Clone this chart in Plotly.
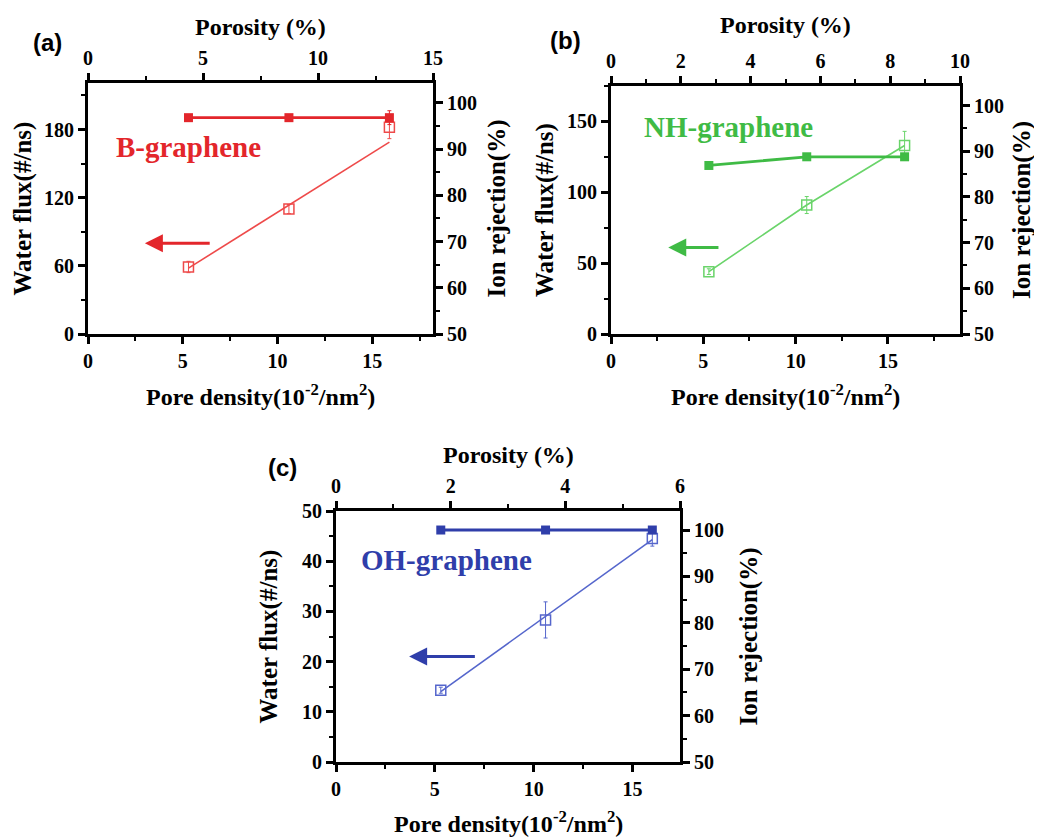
import plotly.graph_objects as go

# ---------------- data ----------------
pore_density = [5.3, 10.6, 15.9]

# (a) B-graphene
a_porosity = [4.4, 8.8, 13.2]
a_flux = [59, 110, 182]
a_flux_err = [5, 4, 10]
a_rej = [96.8, 96.8, 96.8]
a_rej_err = [0.5, 0.5, 1.5]
a_fit_x = [5.3, 15.9]
a_fit_y = [58, 169]

# (b) NH-graphene
b_porosity = [2.8, 5.6, 8.4]
b_flux = [44, 91, 133]
b_flux_err = [2, 6, 10]
b_rej = [86.9, 88.8, 88.8]
b_rej_err = [0.4, 0.4, 0.6]

# (c) OH-graphene
c_density = [5.3, 10.6, 16.0]
c_porosity = [1.82, 3.64, 5.45]
c_flux = [14.3, 28.3, 44.5]
c_flux_err = [0.6, 3.6, 1.5]
c_rej = [100, 100, 100]
c_rej_err = [0.2, 0.2, 0.2]
c_fit_x = [5.3, 16.0]
c_fit_y = [14.0, 44.3]

RED, RED_L = "#e3262b", "#ee4a4a"
GREEN, GREEN_L = "#3fbb45", "#6ad46a"
BLUE, BLUE_L = "#2f3eaa", "#5566cc"

OFF = 8  # page body margin
W, H = 1042 - OFF, 839 - OFF
FONT = "Liberation Serif"

def px_x(v):
    return (v - OFF) / W

def px_y(v):
    return 1 - (v - OFF) / H

panels = [
    dict(key="a", xdom=(88, 433), ydom=(83, 334), xr=[0, 18.2], xtr=[0, 15], xtd=5, xtm=2.5,
         yl=[0, 221], yld=60, ylm=30, yr=[50, 104.3],
         lab=(47, 43), tt=27, bt=395, lt=23, rt=497),
    dict(key="b", xdom=(611, 960), ydom=(86, 334), xr=[0, 18.9], xtr=[0, 10], xtd=2, xtm=1,
         yl=[0, 175], yld=50, ylm=25, yr=[50, 104.3],
         lab=(565, 40), tt=25, bt=395, lt=545, rt=1022),
    dict(key="c", xdom=(336, 680), ydom=(511, 762), xr=[0, 17.4], xtr=[0, 6.0], xtd=2, xtm=1,
         yl=[0, 50], yld=10, ylm=5, yr=[50, 104.1],
         lab=(282, 467), tt=455, bt=822, lt=268, rt=748),
]

fig = go.Figure()
layout = dict(width=W, height=H, margin=dict(l=0, r=0, t=0, b=0, pad=0, autoexpand=False),
              paper_bgcolor="white", plot_bgcolor="white", showlegend=False, template="none")

tickfont = dict(family=FONT, size=20, color="black", weight="bold")

def axis_common(**kw):
    d = dict(showgrid=False, zeroline=False, showline=True, linecolor="black", linewidth=3,
             ticks="outside", ticklen=7, tickwidth=2.5, tickcolor="black", tickfont=tickfont,
             fixedrange=True, automargin=False)
    d.update(kw)
    return d

def minor(dt):
    return dict(dtick=dt, ticks="outside", ticklen=4, tickwidth=2, tickcolor="black", showgrid=False)

for i, p in enumerate(panels):
    n = 4 * i
    xb, xt, yl, yr = n + 1, n + 2, n + 3, n + 4
    xd = [px_x(p["xdom"][0]), px_x(p["xdom"][1])]
    yd = [px_y(p["ydom"][1]), px_y(p["ydom"][0])]
    def nm(k):
        return "" if k == 1 else str(k)
    layout["xaxis" + nm(xb)] = axis_common(domain=xd, range=p["xr"], anchor="y" + nm(yl), side="bottom",
                                           dtick=5, tick0=0, minor=minor(2.5))
    layout["xaxis" + nm(xt)] = axis_common(domain=xd, range=p["xtr"], anchor="y" + nm(yl), side="top",
                                           overlaying="x" + nm(xb), dtick=p["xtd"], tick0=0, minor=minor(p["xtm"]))
    layout["yaxis" + nm(yl)] = axis_common(domain=yd, range=p["yl"], anchor="x" + nm(xb), side="left",
                                           dtick=p["yld"], tick0=0, minor=minor(p["ylm"]))
    layout["yaxis" + nm(yr)] = axis_common(domain=yd, range=p["yr"], anchor="x" + nm(xb), side="right",
                                           overlaying="y" + nm(yl), dtick=10, tick0=50, minor=minor(5))
    p["axes"] = ("x" + nm(xb), "x" + nm(xt), "y" + nm(yl), "y" + nm(yr))

def add_panel(p, dens, poros, flux, flux_err, rej, rej_err, col, col_l, fit=None):
    xb, xt, yl, yr = p["axes"]
    # invisible trace on porosity axis to keep it active
    fig.add_trace(go.Scatter(x=poros, y=flux, xaxis=xt, yaxis=yl, mode="markers",
                             marker=dict(opacity=0), hoverinfo="skip"))
    if fit is not None:
        fig.add_trace(go.Scatter(x=fit[0], y=fit[1], xaxis=xb, yaxis=yl, mode="lines",
                                 line=dict(color=col_l, width=1.6), hoverinfo="skip"))
        mode = "markers"
    else:
        mode = "lines+markers"
    fig.add_trace(go.Scatter(x=dens, y=flux, xaxis=xb, yaxis=yl, mode=mode,
                             line=dict(color=col_l, width=1.6),
                             marker=dict(symbol="square-open", size=10, color=col_l, line=dict(width=1.5)),
                             error_y=dict(type="data", array=flux_err, color=col_l, thickness=1, width=2)))
    fig.add_trace(go.Scatter(x=dens, y=rej, xaxis=xb, yaxis=yr, mode="lines+markers",
                             line=dict(color=col, width=2.8),
                             marker=dict(symbol="square", size=9, color=col),
                             error_y=dict(type="data", array=rej_err, color=col, thickness=1, width=2)))

add_panel(panels[0], pore_density, a_porosity, a_flux, a_flux_err, a_rej, a_rej_err, RED, RED_L, (a_fit_x, a_fit_y))
add_panel(panels[1], pore_density, b_porosity, b_flux, b_flux_err, b_rej, b_rej_err, GREEN, GREEN_L)
add_panel(panels[2], c_density, c_porosity, c_flux, c_flux_err, c_rej, c_rej_err, BLUE, BLUE_L, (c_fit_x, c_fit_y))

ann = []
hfont = dict(family=FONT, size=24, color="black", weight="bold")
vfont = dict(family=FONT, size=25, color="black", weight="bold")
labels = ["(a)", "(b)", "(c)"]
for p, lab in zip(panels, labels):
    x0, x1 = p["xdom"]
    y0, y1 = p["ydom"]
    cx = (x0 + x1) / 2
    cy = (y0 + y1) / 2
    ann.append(dict(text="<b>" + lab + "</b>", x=px_x(p["lab"][0]), y=px_y(p["lab"][1]), xref="paper", yref="paper",
                    showarrow=False, font=dict(family="Liberation Sans", size=24, color="black"),
                    xanchor="center", yanchor="middle"))
    ann.append(dict(text="<b>Porosity (%)</b>", x=px_x(cx), y=px_y(p["tt"]), xref="paper", yref="paper",
                    showarrow=False, font=hfont, xanchor="center", yanchor="middle"))
    ann.append(dict(text="<b>Pore density(10<sup>-2</sup>/nm<sup>2</sup>)</b>", x=px_x(cx), y=px_y(p["bt"]),
                    xref="paper", yref="paper", showarrow=False, font=hfont, xanchor="center", yanchor="middle"))
    ann.append(dict(text="<b>Water flux(#/ns)</b>", x=px_x(p["lt"]), y=px_y(cy), xref="paper", yref="paper",
                    showarrow=False, font=vfont, textangle=-90, xanchor="center", yanchor="middle"))
    ann.append(dict(text="<b>Ion rejection(%)</b>", x=px_x(p["rt"]), y=px_y(cy), xref="paper", yref="paper",
                    showarrow=False, font=vfont, textangle=-90, xanchor="center", yanchor="middle"))

# series names and arrows (data coordinates)
names = [("B-graphene", RED, 5.3, 165, (6.5, 80), (3.0, 80)),
         ("NH-graphene", GREEN, 6.35, 146, (5.9, 61), (3.1, 61)),
         ("OH-graphene", BLUE, 5.57, 40.3, (7.1, 21), (3.7, 21))]
for p, (nmtxt, col, tx, ty, tail, head) in zip(panels, names):
    xb, xt, yl, yr = p["axes"]
    ann.append(dict(text="<b>" + nmtxt + "</b>", x=tx, y=ty, xref=xb, yref=yl, showarrow=False,
                    font=dict(family=FONT, size=29, color=col), xanchor="center", yanchor="middle"))
    ann.append(dict(text="", x=head[0], y=head[1], ax=tail[0], ay=tail[1], xref=xb, yref=yl,
                    axref=xb, ayref=yl, showarrow=True, arrowhead=2, arrowsize=1.2, arrowwidth=3,
                    arrowcolor=col))

layout["annotations"] = ann
fig.update_layout(**layout)
fig.write_html("out.html")
